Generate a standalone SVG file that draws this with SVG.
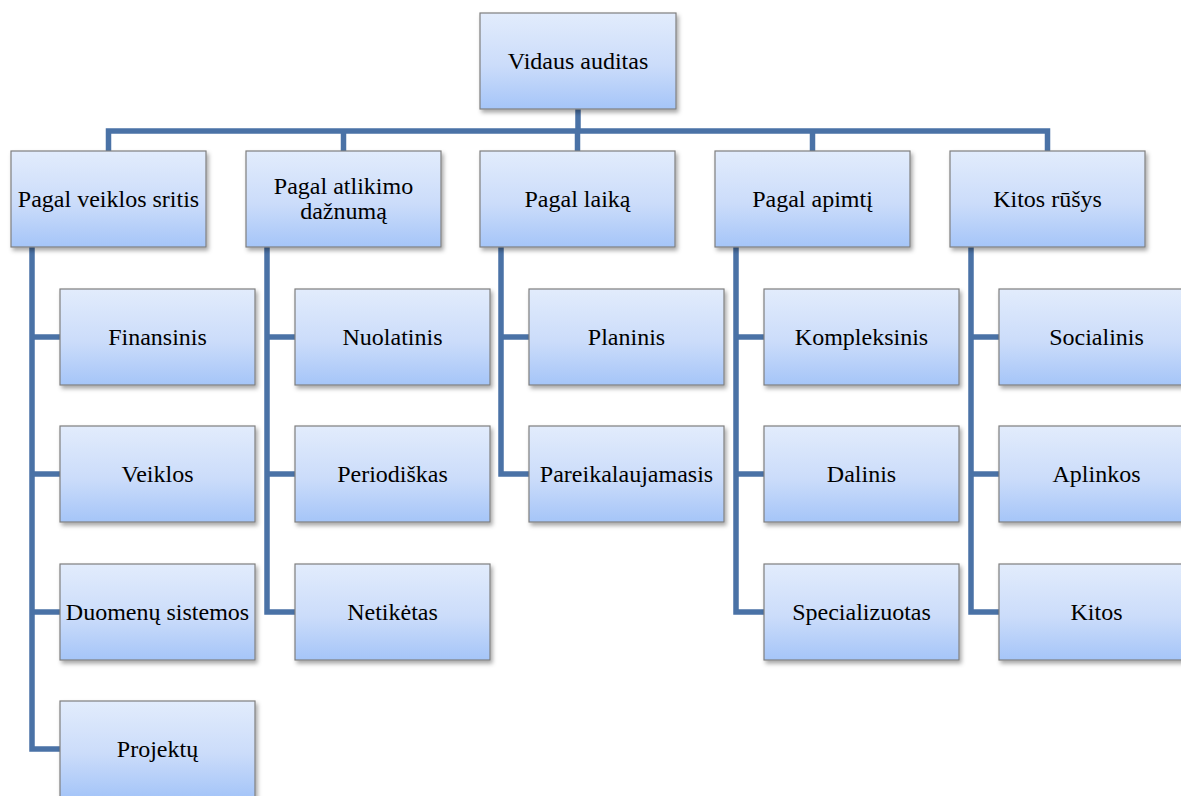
<svg xmlns="http://www.w3.org/2000/svg" width="1181" height="796" viewBox="0 0 1181 796">
  <defs>
    <linearGradient id="boxFill" x1="0" y1="0" x2="0" y2="1">
      <stop offset="0" stop-color="#e2ecfc"/>
      <stop offset="0.55" stop-color="#cbdcfa"/>
      <stop offset="1" stop-color="#a5c5f8"/>
    </linearGradient>
    <filter id="shadow" x="-10%" y="-10%" width="125%" height="130%">
      <feDropShadow dx="2" dy="3" stdDeviation="2" flood-color="#000" flood-opacity="0.35"/>
    </filter>
  </defs>
  <style>
    .box { fill: url(#boxFill); stroke: #7f7f7f; stroke-width: 1.2; filter: url(#shadow); }
    .lbl { font-family: "Liberation Serif", "Times New Roman", serif; font-size: 24px; fill: #000; text-anchor: middle; }
    .conn { fill: none; stroke: #4a72a6; stroke-width: 5.5; stroke-linejoin: miter; stroke-linecap: butt; }
  </style>
  <rect width="1181" height="796" fill="#ffffff"/>

  <!-- connectors -->
  <g id="connectors" class="conn">
    <path d="M578 109 V131"/>
    <path d="M108.5 151 V131 H1047.5 V151"/>
    <path d="M343.5 131 V151"/>
    <path d="M577.5 131 V151"/>
    <path d="M812.5 131 V151"/>
    <!-- column 1 -->
    <path d="M32 247 V749 H60"/>
    <path d="M32 337 H60"/>
    <path d="M32 474 H60"/>
    <path d="M32 612 H60"/>
    <!-- column 2 -->
    <path d="M267 247 V612 H295"/>
    <path d="M267 337 H295"/>
    <path d="M267 474 H295"/>
    <!-- column 3 -->
    <path d="M501 247 V474 H529"/>
    <path d="M501 337 H529"/>
    <!-- column 4 -->
    <path d="M736 247 V612 H764"/>
    <path d="M736 337 H764"/>
    <path d="M736 474 H764"/>
    <!-- column 5 -->
    <path d="M971 247 V612 H999"/>
    <path d="M971 337 H999"/>
    <path d="M971 474 H999"/>
  </g>

  <!-- root -->
  <g id="root">
    <rect class="box" x="480" y="13" width="196" height="96"/>
    <text class="lbl" x="578" y="69">Vidaus auditas</text>
  </g>

  <!-- second level -->
  <g id="pagal-veiklos-sritis">
    <rect class="box" x="11" y="151" width="195" height="96"/>
    <text class="lbl" x="108.5" y="207">Pagal veiklos sritis</text>
  </g>
  <g id="pagal-atlikimo-daznuma">
    <rect class="box" x="246" y="151" width="195" height="96"/>
    <text class="lbl" x="343.5" y="194">Pagal atlikimo</text>
    <text class="lbl" x="343.5" y="219">dažnumą</text>
  </g>
  <g id="pagal-laika">
    <rect class="box" x="480" y="151" width="195" height="96"/>
    <text class="lbl" x="577.5" y="207">Pagal laiką</text>
  </g>
  <g id="pagal-apimti">
    <rect class="box" x="715" y="151" width="195" height="96"/>
    <text class="lbl" x="812.5" y="207">Pagal apimtį</text>
  </g>
  <g id="kitos-rusys">
    <rect class="box" x="950" y="151" width="195" height="96"/>
    <text class="lbl" x="1047.5" y="207">Kitos rūšys</text>
  </g>

  <!-- column 1 children -->
  <g id="finansinis">
    <rect class="box" x="60" y="289" width="195" height="96"/>
    <text class="lbl" x="157.5" y="345">Finansinis</text>
  </g>
  <g id="veiklos">
    <rect class="box" x="60" y="426" width="195" height="96"/>
    <text class="lbl" x="157.5" y="482">Veiklos</text>
  </g>
  <g id="duomenu-sistemos">
    <rect class="box" x="60" y="564" width="195" height="96"/>
    <text class="lbl" x="157.5" y="620">Duomenų sistemos</text>
  </g>
  <g id="projektu">
    <rect class="box" x="60" y="701" width="195" height="96"/>
    <text class="lbl" x="157.5" y="757">Projektų</text>
  </g>

  <!-- column 2 children -->
  <g id="nuolatinis">
    <rect class="box" x="295" y="289" width="195" height="96"/>
    <text class="lbl" x="392.5" y="345">Nuolatinis</text>
  </g>
  <g id="periodiskas">
    <rect class="box" x="295" y="426" width="195" height="96"/>
    <text class="lbl" x="392.5" y="482">Periodiškas</text>
  </g>
  <g id="netiketas">
    <rect class="box" x="295" y="564" width="195" height="96"/>
    <text class="lbl" x="392.5" y="620">Netikėtas</text>
  </g>

  <!-- column 3 children -->
  <g id="planinis">
    <rect class="box" x="529" y="289" width="195" height="96"/>
    <text class="lbl" x="626.5" y="345">Planinis</text>
  </g>
  <g id="pareikalaujamasis">
    <rect class="box" x="529" y="426" width="195" height="96"/>
    <text class="lbl" x="626.5" y="482">Pareikalaujamasis</text>
  </g>

  <!-- column 4 children -->
  <g id="kompleksinis">
    <rect class="box" x="764" y="289" width="195" height="96"/>
    <text class="lbl" x="861.5" y="345">Kompleksinis</text>
  </g>
  <g id="dalinis">
    <rect class="box" x="764" y="426" width="195" height="96"/>
    <text class="lbl" x="861.5" y="482">Dalinis</text>
  </g>
  <g id="specializuotas">
    <rect class="box" x="764" y="564" width="195" height="96"/>
    <text class="lbl" x="861.5" y="620">Specializuotas</text>
  </g>

  <!-- column 5 children -->
  <g id="socialinis">
    <rect class="box" x="999" y="289" width="195" height="96"/>
    <text class="lbl" x="1096.5" y="345">Socialinis</text>
  </g>
  <g id="aplinkos">
    <rect class="box" x="999" y="426" width="195" height="96"/>
    <text class="lbl" x="1096.5" y="482">Aplinkos</text>
  </g>
  <g id="kitos">
    <rect class="box" x="999" y="564" width="195" height="96"/>
    <text class="lbl" x="1096.5" y="620">Kitos</text>
  </g>
</svg>
